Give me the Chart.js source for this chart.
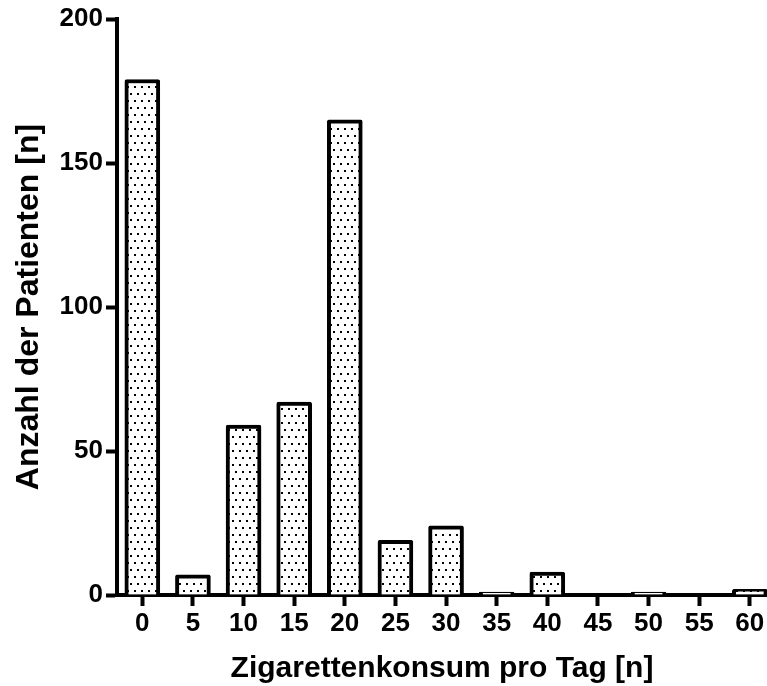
<!DOCTYPE html>
<html>
<head>
<meta charset="utf-8">
<script src="https://cdn.jsdelivr.net/npm/chart.js@4/dist/chart.umd.min.js"></script>
<style>
  html, body { margin: 0; padding: 0; background: #fff; overflow: hidden; }
  #wrap { position: relative; width: 767px; height: 686px; }
</style>
</head>
<body>
<div id="wrap"><canvas id="c" width="767" height="686"></canvas></div>
<script>
// Cigarettes smoked per day (category) and number of patients in each group
const cigarettesPerDay = [0, 5, 10, 15, 20, 25, 30, 35, 40, 45, 50, 55, 60];
const patientCounts    = [179, 7, 59, 67, 165, 19, 24, 1, 8, 0, 1, 0, 2];
const yTicks = [0, 50, 100, 150, 200];

const FONT_FAMILY = '"Liberation Sans", Arial, Helvetica, sans-serif';

// Stippled fill: small black dots in staggered rows on white
function dotPattern() {
  const tile = document.createElement('canvas');
  tile.width = 7;
  tile.height = 14;
  const t = tile.getContext('2d');
  t.fillStyle = '#fff';
  t.fillRect(0, 0, 7, 14);
  t.fillStyle = '#000';
  t.fillRect(1, 2, 2, 2);
  t.fillRect(4, 9, 2, 2);
  return document.getElementById('c').getContext('2d').createPattern(tile, 'repeat');
}

const points = cigarettesPerDay.map((x, i) => ({ x: x, y: patientCounts[i] }));

new Chart(document.getElementById('c'), {
  type: 'bar',
  data: {
    datasets: [{
      data: points,
      backgroundColor: dotPattern(),
      borderColor: '#000',
      borderWidth: 4,
      borderRadius: 2,
      barThickness: 35
    }]
  },
  options: {
    responsive: false,
    animation: false,
    devicePixelRatio: 1,
    layout: { padding: { top: 19, left: 0, right: 0, bottom: 0 } },
    plugins: { legend: { display: false }, tooltip: { enabled: false } },
    scales: {
      x: {
        type: 'linear',
        offset: false,
        min: -2.5,
        max: 61.7,
        afterFit: (s) => { s.height = 91; },
        border: { display: true, color: '#000', width: 4 },
        grid: { display: true, offset: false, drawOnChartArea: false, drawTicks: true, tickLength: 11, tickWidth: 4, tickColor: '#000' },
        ticks: {
          stepSize: 5,
          includeBounds: false,
          autoSkip: false,
          maxRotation: 0,
          padding: 2,
          color: '#000',
          font: { family: FONT_FAMILY, size: 26, weight: 'bold' }
        },
        afterBuildTicks: (s) => { s.ticks = cigarettesPerDay.map(v => ({ value: v })); },
        title: {
          display: true,
          text: 'Zigarettenkonsum pro Tag [n]',
          color: '#000',
          padding: { top: 0, bottom: 2 },
          font: { family: FONT_FAMILY, size: 30, weight: 'bold', lineHeight: 1 }
        }
      },
      y: {
        min: 0,
        max: 200,
        afterFit: (s) => { s.width = 117; },
        afterBuildTicks: (s) => { s.ticks = yTicks.map(v => ({ value: v })); },
        border: { display: true, color: '#000', width: 4 },
        grid: { display: true, drawOnChartArea: false, drawTicks: true, tickLength: 11, tickWidth: 4, tickColor: '#000' },
        ticks: {
          padding: 3,
          color: '#000',
          font: { family: FONT_FAMILY, size: 26, weight: 'bold' }
        },
        title: {
          display: true,
          text: 'Anzahl der Patienten [n]',
          color: '#000',
          padding: { top: 13, bottom: 0 },
          font: { family: FONT_FAMILY, size: 32, weight: 'bold', lineHeight: 1 }
        }
      }
    }
  }
});
</script>
</body>
</html>
